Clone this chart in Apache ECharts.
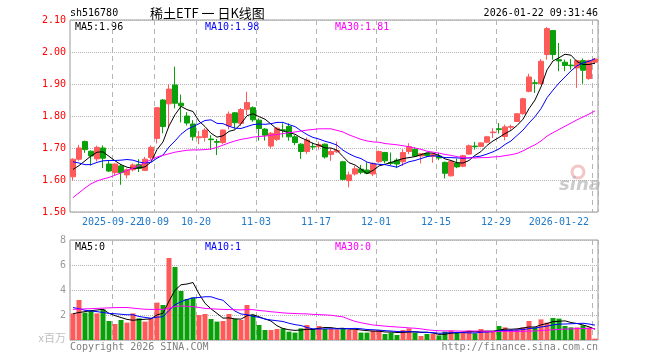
<!DOCTYPE html>
<html><head><meta charset="utf-8">
<script src="https://cdn.jsdelivr.net/npm/echarts@6/dist/echarts.min.js"></script>
<style>html,body{margin:0;padding:0;background:#fff}#c{width:660px;height:360px}</style>
</head><body><div id="c"></div>
<script>
const categories = [
'2025-09-11','2025-09-12','2025-09-15','2025-09-16','2025-09-17','2025-09-18','2025-09-19','2025-09-22','2025-09-23','2025-09-24','2025-09-25','2025-09-26','2025-09-29','2025-09-30',
'2025-10-09','2025-10-10','2025-10-13','2025-10-14','2025-10-15','2025-10-16','2025-10-17','2025-10-20','2025-10-21','2025-10-22','2025-10-23','2025-10-24','2025-10-27','2025-10-28','2025-10-29','2025-10-30','2025-10-31',
'2025-11-03','2025-11-04','2025-11-05','2025-11-06','2025-11-07','2025-11-10','2025-11-11','2025-11-12','2025-11-13','2025-11-14','2025-11-17','2025-11-18','2025-11-19','2025-11-20','2025-11-21','2025-11-24','2025-11-25','2025-11-26','2025-11-27','2025-11-28',
'2025-12-01','2025-12-02','2025-12-03','2025-12-04','2025-12-05','2025-12-08','2025-12-09','2025-12-10','2025-12-11','2025-12-12','2025-12-15','2025-12-16','2025-12-17','2025-12-18','2025-12-19','2025-12-22','2025-12-23','2025-12-24','2025-12-25','2025-12-26','2025-12-29','2025-12-30','2025-12-31',
'2026-01-05','2026-01-06','2026-01-07','2026-01-08','2026-01-09','2026-01-12','2026-01-13','2026-01-14','2026-01-15','2026-01-16','2026-01-19','2026-01-20','2026-01-21','2026-01-22'];

const opens = [1.610,1.665,1.720,1.690,1.666,1.700,1.650,1.623,1.644,1.616,1.632,1.648,1.630,1.670,1.730,1.850,1.838,1.897,1.840,1.800,
1.775,1.732,1.733,1.728,1.720,1.717,1.769,1.810,1.777,1.821,1.826,1.787,1.759,1.706,1.727,1.757,1.767,1.735,1.712,1.689,
1.705,1.705,1.712,1.680,1.688,1.657,1.598,1.619,1.634,1.631,1.619,1.657,1.686,1.655,1.662,1.657,1.689,1.696,1.675,1.683,
1.674,1.675,1.655,1.613,1.653,1.643,1.681,1.706,1.705,1.718,1.748,1.760,1.736,1.765,1.783,1.807,1.877,1.904,1.901,1.992,
2.067,1.976,1.968,1.959,1.950,1.973,1.917,1.968];
const closes = [1.665,1.700,1.695,1.675,1.702,1.668,1.628,1.650,1.623,1.632,1.647,1.636,1.665,1.702,1.826,1.767,1.884,1.840,1.832,1.778,
1.735,1.735,1.756,1.726,1.718,1.756,1.806,1.779,1.820,1.842,1.788,1.761,1.740,1.746,1.762,1.755,1.735,1.717,1.689,1.725,
1.703,1.710,1.672,1.689,1.692,1.602,1.616,1.635,1.624,1.621,1.652,1.689,1.660,1.652,1.650,1.686,1.704,1.675,1.682,1.676,
1.681,1.669,1.621,1.658,1.641,1.676,1.707,1.704,1.716,1.735,1.750,1.758,1.766,1.767,1.807,1.854,1.922,1.902,1.971,2.073,
1.992,1.972,1.958,1.957,1.973,1.943,1.973,1.978];
const lows = [1.598,1.660,1.685,1.645,1.658,1.637,1.625,1.615,1.585,1.605,1.627,1.625,1.628,1.664,1.714,1.746,1.762,1.824,1.780,1.770,
1.723,1.712,1.720,1.694,1.678,1.712,1.758,1.761,1.769,1.803,1.782,1.723,1.723,1.699,1.722,1.733,1.723,1.709,1.666,1.681,
1.694,1.695,1.667,1.660,1.685,1.598,1.577,1.614,1.618,1.618,1.612,1.654,1.652,1.647,1.637,1.644,1.681,1.673,1.652,1.671,
1.654,1.662,1.605,1.611,1.637,1.640,1.679,1.695,1.703,1.715,1.731,1.745,1.724,1.757,1.781,1.804,1.874,1.872,1.898,1.976,
1.976,1.940,1.940,1.945,1.888,1.901,1.913,1.962];
const highs = [1.668,1.710,1.723,1.692,1.707,1.708,1.660,1.652,1.650,1.636,1.652,1.665,1.672,1.708,1.828,1.853,1.899,1.954,1.867,1.812,
1.787,1.753,1.762,1.740,1.728,1.758,1.814,1.812,1.825,1.876,1.830,1.793,1.762,1.750,1.765,1.777,1.777,1.740,1.715,1.733,
1.717,1.720,1.714,1.700,1.720,1.660,1.626,1.644,1.647,1.655,1.655,1.692,1.688,1.686,1.668,1.696,1.715,1.702,1.684,1.685,
1.684,1.685,1.658,1.661,1.667,1.679,1.711,1.719,1.718,1.738,1.762,1.778,1.773,1.773,1.809,1.857,1.932,1.914,1.978,2.078,
2.067,2.028,1.976,1.978,1.976,1.980,1.976,1.980];

const ma5 = [1.633,1.645,1.660,1.675,1.687,1.688,1.674,1.660,1.648,1.640,1.636,1.638,1.641,1.656,1.695,1.719,1.769,1.804,1.830,1.820,
1.814,1.784,1.767,1.746,1.734,1.738,1.752,1.757,1.776,1.801,1.807,1.798,1.790,1.775,1.759,1.753,1.748,1.743,1.732,1.724,
1.714,1.709,1.700,1.700,1.693,1.673,1.654,1.647,1.634,1.620,1.630,1.644,1.649,1.655,1.661,1.667,1.670,1.673,1.679,1.685,
1.684,1.677,1.666,1.661,1.654,1.653,1.661,1.677,1.689,1.708,1.722,1.733,1.745,1.755,1.770,1.790,1.823,1.850,1.891,1.944,
1.972,1.982,1.993,1.990,1.970,1.961,1.961,1.965];
const ma10 = [1.657,1.653,1.648,1.648,1.655,1.660,1.661,1.661,1.662,1.664,1.662,1.656,1.653,1.655,1.668,1.678,1.703,1.722,1.743,1.758,
1.767,1.776,1.786,1.788,1.777,1.776,1.768,1.762,1.761,1.767,1.773,1.775,1.774,1.776,1.780,1.780,1.773,1.767,1.754,1.742,
1.733,1.728,1.721,1.716,1.709,1.693,1.682,1.673,1.667,1.656,1.651,1.649,1.648,1.644,1.640,1.649,1.657,1.661,1.667,1.673,
1.676,1.674,1.670,1.670,1.669,1.668,1.669,1.672,1.675,1.681,1.688,1.697,1.711,1.722,1.739,1.756,1.778,1.798,1.823,1.857,
1.881,1.903,1.922,1.941,1.957,1.966,1.971,1.979];
const ma30 = [1.545,1.560,1.575,1.588,1.597,1.603,1.608,1.615,1.622,1.630,1.637,1.645,1.655,1.663,1.672,1.677,1.682,1.687,1.690,1.693,
1.694,1.694,1.695,1.697,1.702,1.709,1.716,1.722,1.727,1.730,1.734,1.736,1.737,1.740,1.742,1.745,1.748,1.750,1.753,1.756,
1.758,1.760,1.760,1.760,1.755,1.750,1.741,1.734,1.727,1.722,1.719,1.718,1.714,1.712,1.710,1.707,1.704,1.700,1.696,1.690,
1.687,1.684,1.680,1.677,1.673,1.670,1.669,1.669,1.670,1.670,1.672,1.673,1.676,1.679,1.683,1.691,1.701,1.710,1.722,1.737,
1.748,1.758,1.768,1.778,1.788,1.797,1.806,1.816];

const volumes = [2.13,3.20,2.19,2.35,2.13,2.45,1.52,1.28,1.60,1.39,2.13,1.73,1.47,1.73,2.99,2.80,6.56,5.84,3.92,3.28,
3.40,2.00,2.08,1.68,1.47,1.52,2.08,1.68,1.60,2.80,2.00,1.20,0.80,0.80,0.88,0.93,0.67,0.59,0.93,1.20,
0.88,1.12,0.88,0.88,0.85,0.96,0.80,0.80,0.59,0.59,0.75,0.80,0.48,0.59,0.40,0.80,0.93,0.59,0.32,0.48,
0.48,0.37,0.67,0.75,0.59,0.69,0.75,0.53,0.88,0.69,0.69,1.12,1.01,0.80,0.85,1.01,1.52,1.01,1.65,1.39,
1.76,1.71,1.12,1.01,1.01,1.17,1.01,0.11];
const volMa5 = [2.10,2.20,2.27,2.35,2.40,2.46,2.13,1.95,1.80,1.65,1.58,1.63,1.66,1.69,2.01,2.14,3.11,3.98,4.42,4.48,
4.60,3.69,2.94,2.49,2.13,1.75,1.77,1.69,1.67,1.94,2.03,1.86,1.68,1.52,1.14,0.92,0.82,0.77,0.80,0.86,
0.85,0.94,1.00,0.99,0.92,0.94,0.87,0.86,0.80,0.75,0.71,0.71,0.64,0.64,0.60,0.61,0.64,0.66,0.61,0.62,
0.56,0.45,0.46,0.55,0.57,0.61,0.69,0.66,0.69,0.71,0.71,0.78,0.88,0.86,0.89,0.96,1.04,1.04,1.21,1.32,
1.47,1.50,1.53,1.40,1.32,1.20,1.06,0.86];
const volMa10 = [2.60,2.50,2.38,2.32,2.27,2.20,2.13,2.10,2.06,2.02,2.02,1.88,1.81,1.74,1.83,1.86,2.37,2.82,3.06,3.25,
3.37,3.40,3.46,3.46,3.30,3.18,2.73,2.31,2.08,2.03,1.89,1.81,1.68,1.60,1.54,1.48,1.34,1.23,1.16,1.00,
0.89,0.88,0.89,0.90,0.89,0.90,0.91,0.93,0.90,0.84,0.82,0.79,0.75,0.72,0.68,0.66,0.67,0.65,0.63,0.61,
0.59,0.54,0.56,0.58,0.60,0.59,0.57,0.56,0.62,0.64,0.66,0.74,0.77,0.78,0.80,0.83,0.91,0.96,1.04,1.11,
1.21,1.27,1.28,1.30,1.32,1.34,1.28,1.19];
const volMa30 = [2.45,2.47,2.49,2.51,2.53,2.55,2.57,2.59,2.60,2.60,2.55,2.50,2.46,2.45,2.45,2.45,2.55,2.68,2.72,2.70,
2.67,2.60,2.53,2.50,2.47,2.45,2.44,2.42,2.41,2.43,2.43,2.36,2.32,2.26,2.22,2.17,2.14,2.12,2.10,2.09,
2.05,2.03,2.01,1.98,1.91,1.85,1.66,1.49,1.38,1.29,1.20,1.16,1.11,1.07,1.04,1.01,0.97,0.94,0.89,0.82,
0.77,0.74,0.73,0.73,0.72,0.71,0.72,0.72,0.71,0.70,0.69,0.69,0.69,0.69,0.69,0.69,0.72,0.72,0.76,0.79,
0.82,0.85,0.87,0.89,0.91,0.92,0.92,0.91];

const tickIndex = [7,14,21,31,41,51,61,71,87];
const tickText = ['2025-09-22','10-09','10-20','11-03','11-17','12-01','12-15','12-29','2026-01-22'];
const priceLegend = ['MA5:1.96','MA10:1.98','MA30:1.81'];
const volLegend = ['MA5:0','MA10:1','MA30:0'];

const UP = '#ff5a5a', DOWN = '#0aa00a';
const MONO = '"DejaVu Sans Mono", "Liberation Mono", monospace';
const GRIDC = '#b4b4b4';
const LABELC = '#1f78c8';
const showTick = (i) => tickIndex.indexOf(i) >= 0;

const chart = echarts.init(document.getElementById('c'), null, {renderer: 'canvas'});

function xAx(grid, labelSet, splits) {
  return {
    type: 'category', gridIndex: grid, data: categories, boundaryGap: true,
    position: 'bottom', offset: 0,
    axisLine: {show: false}, axisTick: {show: false},
    axisLabel: labelSet ? {
      show: true, interval: (i) => labelSet.indexOf(i) >= 0, hideOverlap: false,
      formatter: (v, i) => tickText[tickIndex.indexOf(i)],
      color: LABELC, fontFamily: MONO, fontSize: 10, margin: 5,
      padding: [0, 6, 0, 0], alignMaxLabel: 'right'
    } : {show: false},
    splitLine: {show: splits, interval: (i) => showTick(i), lineStyle: {color: GRIDC, type: [5, 4], width: 1}}
  };
}
function line(name, data, color, xi, yi) {
  return {name, type: 'line', data, xAxisIndex: xi, yAxisIndex: yi, showSymbol: false, symbol: 'none',
    lineStyle: {color, width: 1}, itemStyle: {color}, z: 5, silent: true};
}

const txt = (text, x, y, fill, font, align) => ({type: 'text', x, y, silent: true,
  style: {text, fill, font, textAlign: align || 'left', align: align || 'left', textVerticalAlign: 'middle', verticalAlign: 'middle'}});

const option = {
  animation: false,
  backgroundColor: '#fff',
  grid: [
    {left: 70, top: 20, width: 528, height: 192, show: true, borderColor: '#999', borderWidth: 1, backgroundColor: 'transparent'},
    {left: 70, top: 240, width: 528, height: 100, show: true, borderColor: '#999', borderWidth: 1, backgroundColor: 'transparent'}
  ],
  xAxis: [
    xAx(0, tickIndex.slice(1), true),
    xAx(1, null, true),
    xAx(0, tickIndex.slice(0, 1), false)
  ],
  yAxis: [
    {type: 'value', gridIndex: 0, min: 1.5, max: 2.1, interval: 0.1, scale: true,
     axisLine: {show: false}, axisTick: {show: false},
     axisLabel: {color: '#ff0000', fontFamily: MONO, fontSize: 10, margin: 4, formatter: (v) => v.toFixed(2)},
     splitLine: {show: true, lineStyle: {color: GRIDC, type: 'dotted'}}},
    {type: 'value', gridIndex: 1, min: 0, max: 8, interval: 2,
     axisLine: {show: false}, axisTick: {show: false},
     axisLabel: {color: '#9a9a9a', fontFamily: MONO, fontSize: 10, margin: 4,
       formatter: (v) => v === 0 ? '{u|x百万}' : String(v),
       rich: {u: {color: '#c0c0c0', fontSize: 11, fontFamily: '"Noto Sans CJK SC", sans-serif', padding: [0, 0, 4, 0]}}},
     splitLine: {show: true, lineStyle: {color: GRIDC, type: 'dotted'}}}
  ],
  series: [
    {type: 'candlestick', xAxisIndex: 0, yAxisIndex: 0, barWidth: 5,
     data: opens.map((o, i) => [o, closes[i], lows[i], highs[i]]),
     itemStyle: {color: UP, color0: DOWN, borderColor: UP, borderColor0: DOWN, borderWidth: 1}, z: 3},
    line('MA5', ma5, '#000000', 0, 0),
    line('MA10', ma10, '#0000ff', 0, 0),
    line('MA30', ma30, '#ff00ff', 0, 0),
    {type: 'bar', xAxisIndex: 1, yAxisIndex: 1, barWidth: 5,
     data: volumes.map((v, i) => ({value: v, itemStyle: {color: closes[i] >= opens[i] ? UP : DOWN}})), z: 3},
    line('VMA5', volMa5, '#000000', 1, 1),
    line('VMA10', volMa10, '#0000ff', 1, 1),
    line('VMA30', volMa30, '#ff00ff', 1, 1)
  ],
  graphic: [
    txt('sh516780', 70, 13, '#000', '10px ' + MONO),
    txt('稀土ETF 一 日K线图', 150, 13, '#000', '13px "Noto Sans CJK SC", sans-serif'),
    txt('2026-01-22 09:31:46', 598, 13, '#000', '10px ' + MONO, 'right'),
    txt(priceLegend[0], 75, 27, '#000', '10px ' + MONO),
    txt(priceLegend[1], 205, 27, '#0000ff', '10px ' + MONO),
    txt(priceLegend[2], 335, 27, '#ff00ff', '10px ' + MONO),
    txt(volLegend[0], 75, 247, '#000', '10px ' + MONO),
    txt(volLegend[1], 205, 247, '#0000ff', '10px ' + MONO),
    txt(volLegend[2], 335, 247, '#ff00ff', '10px ' + MONO),
    txt('Copyright 2026 SINA.COM', 70, 347, '#808080', '10px ' + MONO),
    txt('http://finance.sina.com.cn', 598, 347, '#808080', '10px ' + MONO, 'right'),
    {type: 'circle', silent: true, shape: {cx: 578, cy: 172, r: 6}, style: {fill: 'none', stroke: 'rgba(235,150,150,0.55)', lineWidth: 3}},
    txt('sina', 580, 185, 'rgba(185,185,185,0.75)', 'italic bold 18px "DejaVu Sans", sans-serif', 'center')
  ]
};
chart.setOption(option);
</script>
</body></html>
